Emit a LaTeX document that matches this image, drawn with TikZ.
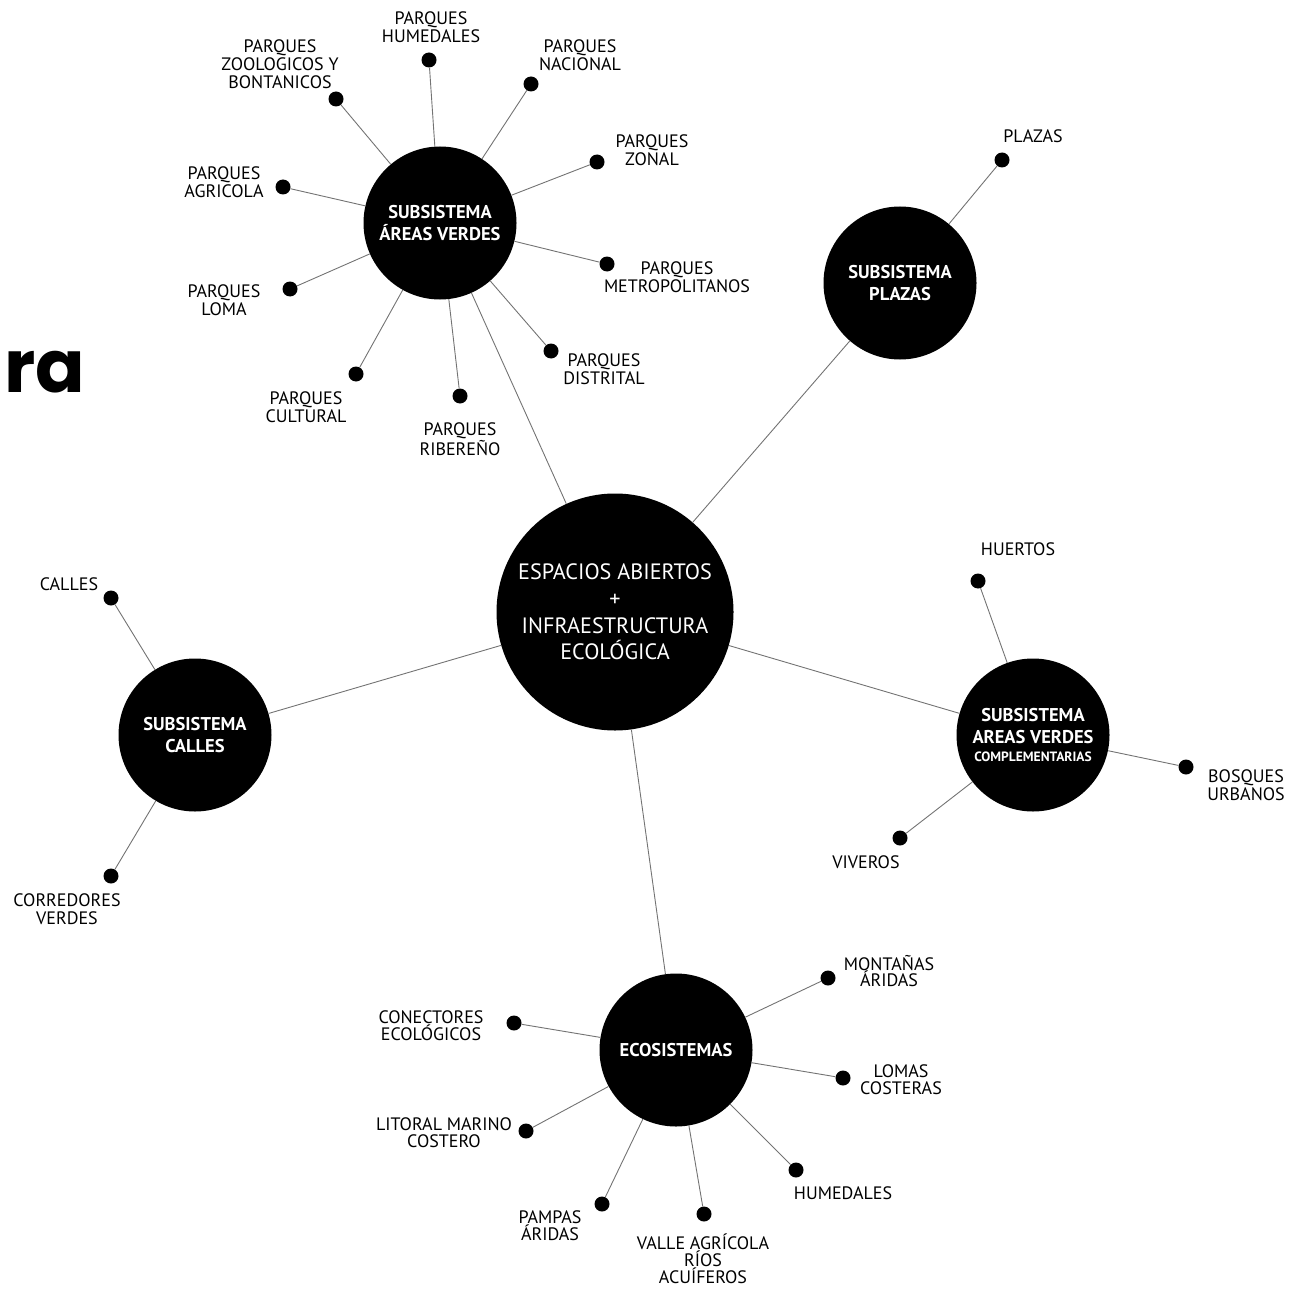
\documentclass[tikz,border=0pt]{standalone}
\usepackage{fontspec}
\setmainfont{PT Sans}
\newfontfamily\titlefont{Poppins}

\begin{document}
\begin{tikzpicture}[x=1pt, y=-1pt,
    hub/.style={circle, fill=black, text=white, align=center, inner sep=0pt, minimum size=153pt, font=\bfseries\fontsize{18.5}{22}\selectfont},
    leaf/.style={circle, fill=black, inner sep=0pt, minimum size=15pt},
    tag/.style={align=center, inner sep=0pt, font=\fontsize{18}{18}\selectfont},
    ecotag/.style={tag, font=\fontsize{18}{16.8}\selectfont},
    link/.style={draw=black!55, line width=0.9pt}]
    \useasboundingbox (0,0) rectangle (1289,1289);

    % Title fragment
    \node[anchor=base west, inner sep=0pt, font=\titlefont\bfseries\fontsize{73}{73}\selectfont] (title) at (4,392) {ra};

    % Hubs
    \node[hub, minimum size=237pt, font=\fontsize{22.2}{26.8}\selectfont] (main) at (615,612) {ESPACIOS ABIERTOS\\+\\INFRAESTRUCTURA\\ECOLÓGICA};
    \node[hub] (verdes) at (440,223) {SUBSISTEMA\\ÁREAS VERDES};
    \node[hub] (plazas) at (900,283) {SUBSISTEMA\\PLAZAS};
    \node[hub] (calles) at (195,735) {SUBSISTEMA\\CALLES};
    \node[hub] (compl) at (1033,735) {SUBSISTEMA\\AREAS VERDES\\[-4pt]{\fontsize{13.5}{14}\selectfont COMPLEMENTARIAS}};
    \node[hub] (eco) at (676,1050) {ECOSISTEMAS};

    % Leaves: areas verdes
    \node[leaf] (hum) at (429,60) {};
    \node[leaf] (zoo) at (336,99) {};
    \node[leaf] (nac) at (531,84) {};
    \node[leaf] (zon) at (597,162) {};
    \node[leaf] (agr) at (283,187) {};
    \node[leaf] (met) at (607,264) {};
    \node[leaf] (lom) at (290,289) {};
    \node[leaf] (dis) at (551,351) {};
    \node[leaf] (cul) at (356,374) {};
    \node[leaf] (rib) at (460,396) {};
    \node[tag] (humt) at (431,27) {PARQUES\\HUMEDALES};
    \node[tag] (zoot) at (280,64) {PARQUES\\ZOOLOGICOS Y\\BONTANICOS};
    \node[tag] (nact) at (580,55) {PARQUES\\NACIONAL};
    \node[tag] (zont) at (652,150) {PARQUES\\ZONAL};
    \node[tag] (agrt) at (224,182) {PARQUES\\AGRICOLA};
    \node[tag] (mett) at (677,277) {PARQUES\\METROPOLITANOS};
    \node[tag] (lomt) at (224,300) {PARQUES\\LOMA};
    \node[tag] (dist) at (604,369) {PARQUES\\DISTRITAL};
    \node[tag] (cult) at (306,407) {PARQUES\\CULTURAL};
    \node[tag] (ribt) at (460,439) {PARQUES\\RIBEREÑO};

    % Leaves: plazas, calles, complementarias
    \node[leaf] (pla) at (1002,160) {};
    \node[tag] (plat) at (1033,136) {PLAZAS};
    \node[leaf] (cal) at (111,598) {};
    \node[tag] (calt) at (69,584) {CALLES};
    \node[leaf] (cor) at (111,876) {};
    \node[tag] (cort) at (67,909) {CORREDORES\\VERDES};
    \node[leaf] (hue) at (978,581) {};
    \node[tag] (huet) at (1018,549) {HUERTOS};
    \node[leaf] (bos) at (1186,767) {};
    \node[tag] (bost) at (1246,785) {BOSQUES\\URBANOS};
    \node[leaf] (viv) at (900,838) {};
    \node[tag] (vivt) at (866,862) {VIVEROS};

    % Leaves: ecosistemas
    \node[leaf] (mon) at (828,978) {};
    \node[leaf] (con) at (514,1023) {};
    \node[leaf] (lmc) at (843,1078) {};
    \node[leaf] (lit) at (526,1131) {};
    \node[leaf] (ehu) at (796,1170) {};
    \node[leaf] (pam) at (602,1204) {};
    \node[leaf] (val) at (704,1214) {};
    \node[ecotag] (mont) at (889,971) {MONTAÑAS\\ÁRIDAS};
    \node[ecotag] (cont) at (431,1026) {CONECTORES\\ECOLÓGICOS};
    \node[ecotag] (lmct) at (901,1080) {LOMAS\\COSTERAS};
    \node[ecotag] (litt) at (444,1133) {LITORAL MARINO\\COSTERO};
    \node[ecotag] (ehut) at (843,1193) {HUMEDALES};
    \node[ecotag] (pamt) at (550,1226) {PAMPAS\\ÁRIDAS};
    \node[ecotag] (valt) at (703,1259) {VALLE AGRÍCOLA\\RÍOS\\ACUÍFEROS};

    % Links
    \foreach \h in {verdes, plazas, calles, compl, eco}
        \draw[link] (main) -- (\h);
    \foreach \l in {hum, zoo, nac, zon, agr, met, lom, dis, cul, rib}
        \draw[link] (verdes) -- (\l);
    \draw[link] (plazas) -- (pla);
    \foreach \l in {cal, cor}
        \draw[link] (calles) -- (\l);
    \foreach \l in {hue, bos, viv}
        \draw[link] (compl) -- (\l);
    \foreach \l in {mon, con, lmc, lit, ehu, pam, val}
        \draw[link] (eco) -- (\l);
\end{tikzpicture}
\end{document}
